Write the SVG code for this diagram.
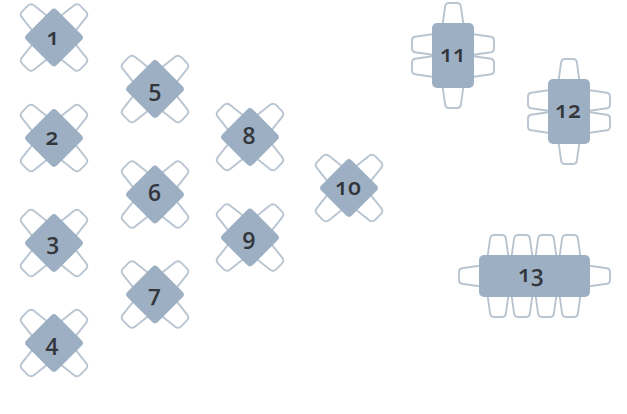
<svg xmlns="http://www.w3.org/2000/svg" width="627" height="414" viewBox="0 0 627 414">
<style>
.t{fill:#9dafc3}
.c{fill:#fff;stroke:#b9c5d1;stroke-width:1.900;stroke-linejoin:round}
text{font-family:"Open Sans","Noto Sans","DejaVu Sans",sans-serif;font-size:23px;font-weight:600;fill:#33363b;text-anchor:middle;font-variant-numeric:oldstyle-nums;font-feature-settings:"onum"}
</style>
<defs>
<path id="ch" class="c" d="M-10.500,2L-7.800,-17Q-7.300,-20 -4,-20L4,-20Q7.300,-20 7.800,-17L10.500,2Z"/>
<path id="cd" class="c" d="M-10.500,2L-8.500,-15.500Q-8,-19.500 -4,-19.500L4,-19.500Q8,-19.500 8.500,-15.500L10.500,2Z"/>
<g id="d">
<g transform="rotate(45)">
<use href="#cd" transform="translate(0,-21.500)"/>
<use href="#cd" transform="rotate(90) translate(0,-21.500)"/>
<use href="#cd" transform="rotate(180) translate(0,-21.500)"/>
<use href="#cd" transform="rotate(270) translate(0,-21.500)"/>
<rect class="t" x="-21.500" y="-21.500" width="43" height="43" rx="4"/>
</g>
</g>
<g id="s">
<use href="#ch" transform="translate(21,0)"/>
<use href="#ch" transform="translate(21,65) rotate(180)"/>
<use href="#ch" transform="translate(0,21.500) rotate(-90)"/>
<use href="#ch" transform="translate(0,43.500) rotate(-90)"/>
<use href="#ch" transform="translate(42,21.500) rotate(90)"/>
<use href="#ch" transform="translate(42,43.500) rotate(90)"/>
<rect class="t" width="42" height="65" rx="5"/>
</g>
</defs>
<g id="table-1"><use href="#d" x="54" y="37.500"/><text x="53" y="45">1</text></g>
<g id="table-2"><use href="#d" x="54" y="138"/><text x="52" y="145">2</text></g>
<g id="table-3"><use href="#d" x="54" y="243"/><text x="53" y="250">3</text></g>
<g id="table-4"><use href="#d" x="54" y="343"/><text x="52" y="351">4</text></g>
<g id="table-5"><use href="#d" x="155" y="89"/><text x="155" y="97">5</text></g>
<g id="table-6"><use href="#d" x="155" y="194.500"/><text x="154.500" y="201">6</text></g>
<g id="table-7"><use href="#d" x="155" y="294.500"/><text x="154.500" y="302">7</text></g>
<g id="table-8"><use href="#d" x="250" y="137"/><text x="249" y="144">8</text></g>
<g id="table-9"><use href="#d" x="250" y="237.500"/><text x="249" y="245">9</text></g>
<g id="table-10"><use href="#d" x="349" y="188"/><text x="348" y="195">10</text></g>
<g id="table-11"><use href="#s" x="432" y="23"/><text x="453" y="62">11</text></g>
<g id="table-12"><use href="#s" x="548" y="79"/><text x="568" y="118">12</text></g>
<g id="table-13">
<use href="#ch" transform="translate(498,255)"/>
<use href="#ch" transform="translate(522,255)"/>
<use href="#ch" transform="translate(546,255)"/>
<use href="#ch" transform="translate(570,255)"/>
<use href="#ch" transform="translate(498,297) rotate(180)"/>
<use href="#ch" transform="translate(522,297) rotate(180)"/>
<use href="#ch" transform="translate(546,297) rotate(180)"/>
<use href="#ch" transform="translate(570,297) rotate(180)"/>
<use href="#ch" transform="translate(479,276) rotate(-90)"/>
<use href="#ch" transform="translate(590,276) rotate(90)"/>
<rect class="t" x="479" y="255" width="111" height="42" rx="5"/>
<text x="531" y="282">13</text>
</g>
</svg>
